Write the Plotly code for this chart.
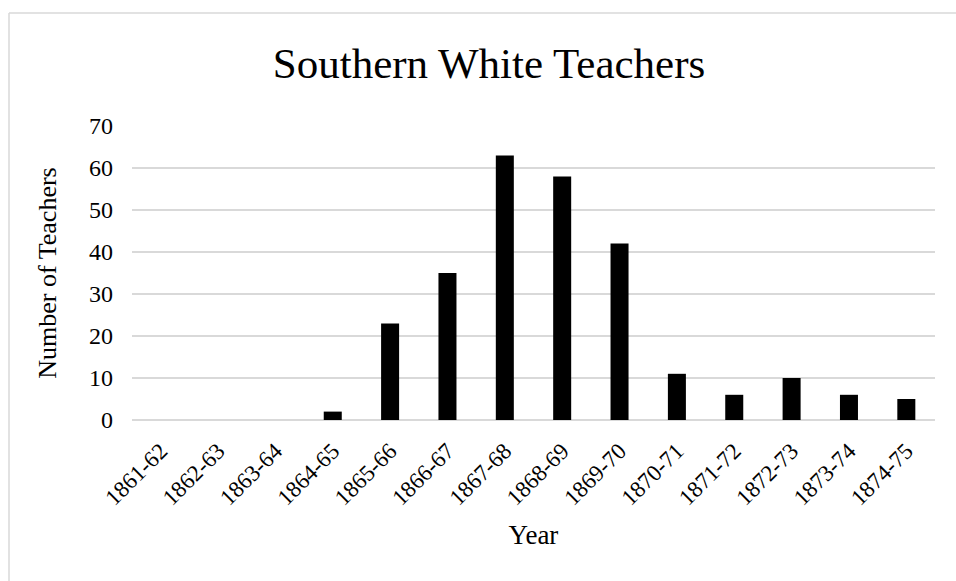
import plotly.graph_objects as go

# Teaching years and head counts
years = ["1861-62", "1862-63", "1863-64", "1864-65", "1865-66", "1866-67", "1867-68",
         "1868-69", "1869-70", "1870-71", "1871-72", "1872-73", "1873-74", "1874-75"]
teachers = [0, 0, 0, 2, 23, 35, 63, 58, 42, 11, 6, 10, 6, 5]

title_text = "Southern White Teachers"
x_title = "Year"
y_title = "Number of Teachers"

FONT = "Liberation Serif, Times New Roman, serif"
GRID = "#d9d9d9"

W, H = 956, 581
L, R, T, B = 132, 21, 126, 161
pw, ph = W - L - R, H - T - B


def px_x(x):
    return (x - L) / pw


def px_y(y):
    return (H - B - y) / ph


fig = go.Figure(
    go.Bar(
        x=years,
        y=teachers,
        marker=dict(color="#000000", line=dict(width=0)),
    )
)

fig.update_layout(
    width=W,
    height=H,
    margin=dict(l=L, r=R, t=T, b=B, autoexpand=False),
    paper_bgcolor="white",
    plot_bgcolor="white",
    bargap=0.686,
    showlegend=False,
    font=dict(family=FONT, color="#000000"),
    title=dict(
        text=title_text,
        font=dict(family=FONT, size=43, color="#000000"),
        x=489 / W,
        xanchor="center",
        y=1 - 63 / H,
        yanchor="middle",
    ),
    xaxis=dict(
        type="category",
        tickangle=-45,
        tickfont=dict(family=FONT, size=23),
        showgrid=False,
        showline=False,
        ticks="",
        ticklabelstandoff=12,
        title=dict(text=x_title, font=dict(family=FONT, size=27), standoff=15),
        automargin=False,
    ),
    yaxis=dict(
        range=[0, 70],
        dtick=10,
        tickfont=dict(family=FONT, size=24),
        showgrid=True,
        gridcolor=GRID,
        gridwidth=1.5,
        zeroline=True,
        zerolinecolor=GRID,
        zerolinewidth=1.5,
        showline=False,
        ticks="",
        ticklabelstandoff=18,
        title=dict(text=y_title, font=dict(family=FONT, size=26), standoff=24),
        automargin=False,
    ),
    shapes=[
        # chart-area frame: top and left edges
        dict(type="line", xref="paper", yref="paper",
             x0=px_x(9), x1=px_x(W + 5), y0=px_y(13), y1=px_y(13),
             line=dict(color=GRID, width=1.5)),
        dict(type="line", xref="paper", yref="paper",
             x0=px_x(9), x1=px_x(9), y0=px_y(13), y1=px_y(H + 5),
             line=dict(color=GRID, width=1.5)),
    ],
)

fig.write_html("out.html")
